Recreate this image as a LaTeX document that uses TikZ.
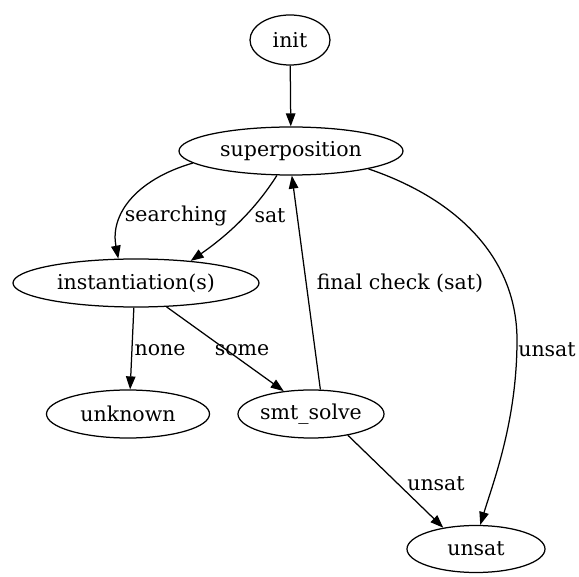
\documentclass[tikz,border=0pt]{standalone}
\usepackage{fontspec}
\setmainfont{DejaVu Serif}
\usetikzlibrary{shapes.geometric,arrows.meta}
\begin{document}
\begin{tikzpicture}[x=1pt,y=-1pt,
  st/.style={draw,ellipse,line width=1.25pt,inner sep=0pt,font=\fontsize{20.5}{24}\selectfont},
  lbl/.style={inner sep=0pt,font=\fontsize{20.5}{24}\selectfont},
  edge/.style={line width=1.25pt,-{Triangle[length=13pt,width=9.5pt]}}]
\useasboundingbox (0,0) rectangle (579,577);
\node[st,minimum width=80pt,minimum height=50pt] (init) at (290,40) {init};
\node[st,minimum width=224pt,minimum height=48pt] (sup) at (291,151) {superposition};
\node[st,minimum width=246pt,minimum height=48pt] (inst) at (136,283) {instantiation(s)};
\node[st,minimum width=163pt,minimum height=48pt] (unk) at (128,414) {unknown};
\node[st,minimum width=146pt,minimum height=48pt] (smt) at (311,414) {smt\_solve};
\node[st,minimum width=138pt,minimum height=47pt] (uns) at (476,549) {unsat};

\node[lbl] (l1) at (176,216) {searching};
\node[lbl] (l2) at (270,216) {sat};
\node[lbl] (l3) at (160,350) {none};
\node[lbl] (l4) at (242,350) {some};
\node[lbl] (l5) at (400,283) {final check (sat)};
\node[lbl] (l6) at (547,350) {unsat};
\node[lbl] (l7) at (436,484) {unsat};

\draw[edge] (init) -- (sup);
\draw[edge] (sup.187) .. controls (135,180) and (110,215) .. (inst.126);
\draw[edge] (sup.240) .. controls (255,210) and (228,235) .. (inst.22);
\draw[edge] (inst.-95) -- (unk.85);
\draw[edge] (inst.-38) -- (smt.140);
\draw[edge] (smt.69) -- (sup.-88);
\draw[edge] (sup.-13) .. controls (460,200) and (517,260) .. (517,340) .. controls (517,420) and (494,480) .. (uns.80);
\draw[edge] (smt.-30) -- (uns.147);
\end{tikzpicture}
\end{document}
